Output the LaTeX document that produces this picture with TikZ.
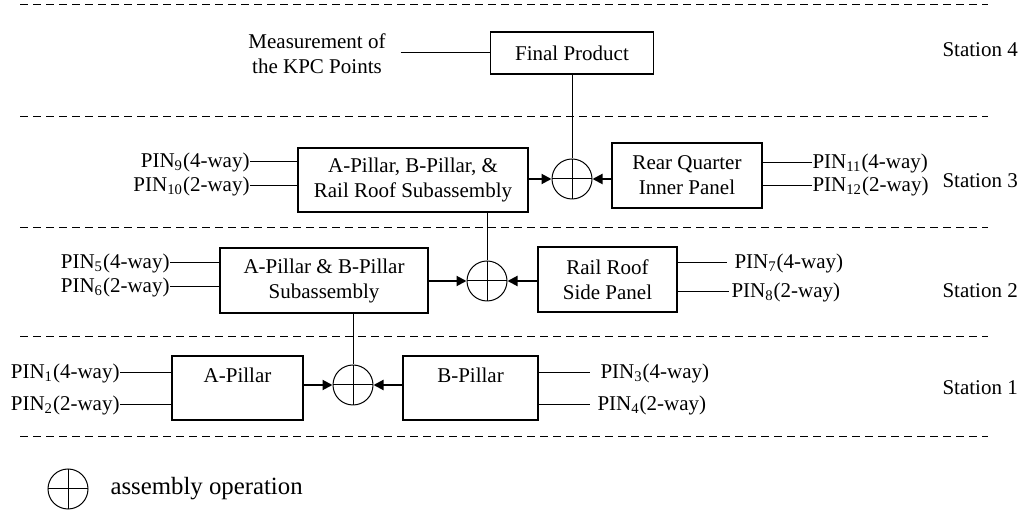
\documentclass[tikz,border=0pt]{standalone}
\usepackage{fontspec}
\setmainfont{Liberation Serif}
\usetikzlibrary{arrows.meta}
\begin{document}
\begin{tikzpicture}[x=0.5pt,y=-0.5pt,
  font=\fontsize{10.5}{12.5}\selectfont, line width=0.5pt,
  blk/.style={draw, inner sep=0pt, align=center, line width=0.6pt},
  asm/.style={draw, circle, minimum size=20pt, inner sep=0pt,
    path picture={\draw (path picture bounding box.north) -- (path picture bounding box.south)
      (path picture bounding box.west) -- (path picture bounding box.east);}},
  sepline/.style={dash pattern=on 4pt off 2.5pt, line width=0.5pt},
  arr/.style={-{Triangle[length=5pt,width=5pt]}, line width=1pt},
  pinl/.style={inner sep=0pt, anchor=east},
  pinr/.style={inner sep=0pt, anchor=west},
  stn/.style={anchor=west, inner sep=0pt}]
\useasboundingbox (0,0) rectangle (1023,512);

% station separators
\foreach \yy in {5,117,228,337,437} \draw[sepline] (20,\yy) -- (988,\yy);

% Station 4
\node[blk, minimum width=81.5pt, minimum height=21pt] (fp) at (572,53) {Final Product};
\node[align=center] (meas) at (317,54) {Measurement of\\the KPC Points};
\draw ([xshift=4pt]meas.east |- fp.west) -- (fp.west);
\node[stn] (st4) at (942,50) {Station 4};

% Station 3
\node[asm] (c3) at (572,179) {};
\draw (fp.south) -- (c3.north);
\node[blk, minimum width=115pt, minimum height=32pt] (s3L) at (413,180) {A-Pillar, B-Pillar, \&\\Rail Roof Subassembly};
\node[blk, minimum width=75pt, minimum height=32.5pt] (s3R) at (687,175.5) {Rear Quarter\\Inner Panel};
\draw[arr] (c3.west -| s3L.east) -- (c3.west);
\draw[arr] (c3.east -| s3R.west) -- (c3.east);
\node[pinl] (p9) at (250,162) {PIN\textsubscript{9}(4-way)};
\node[pinl] (p10) at (250,186) {PIN\textsubscript{10}(2-way)};
\draw (p9.east) -- (p9.east -| s3L.west);
\draw (p10.east) -- (p10.east -| s3L.west);
\node[pinr] (p11) at (812,163) {PIN\textsubscript{11}(4-way)};
\node[pinr] (p12) at (812,186) {PIN\textsubscript{12}(2-way)};
\draw (s3R.east |- p11.west) -- (p11.west);
\draw (s3R.east |- p12.west) -- (p12.west);
\node[stn] (st3) at (942,181) {Station 3};

% Station 2
\node[asm] (c2) at (487,281) {};
\draw (c2.north |- s3L.south) -- (c2.north);
\node[blk, minimum width=104pt, minimum height=32.5pt] (s2L) at (324,280.5) {A-Pillar \& B-Pillar\\Subassembly};
\node[blk, minimum width=69.5pt, minimum height=32.5pt] (s2R) at (607.5,279.5) {Rail Roof\\Side Panel};
\draw[arr] (c2.west -| s2L.east) -- (c2.west);
\draw[arr] (c2.east -| s2R.west) -- (c2.east);
\node[pinl] (p5) at (170,263) {PIN\textsubscript{5}(4-way)};
\node[pinl] (p6) at (170,287) {PIN\textsubscript{6}(2-way)};
\draw (p5.east) -- (p5.east -| s2L.west);
\draw (p6.east) -- (p6.east -| s2L.west);
\node[pinr] (p7) at (734,263) {PIN\textsubscript{7}(4-way)};
\node[pinr] (p8) at (731,292) {PIN\textsubscript{8}(2-way)};
\draw (s2R.east |- p7.west) -- ([xshift=-3.5pt]p7.west);
\draw (s2R.east |- p8.west) -- ([xshift=-1pt]p8.west);
\node[stn] (st2) at (942,291) {Station 2};

% Station 1
\node[asm] (c1) at (353,385) {};
\draw (c1.north |- s2L.south) -- (c1.north);
\node[blk, minimum width=65.5pt, minimum height=32pt] (s1L) at (237.5,388) {A-Pillar\\\mbox{}};
\node[blk, minimum width=67.5pt, minimum height=32pt] (s1R) at (470.5,388) {B-Pillar\\\mbox{}};
\draw[arr] (c1.west -| s1L.east) -- (c1.west);
\draw[arr] (c1.east -| s1R.west) -- (c1.east);
\node[pinl] (p1) at (120,373) {PIN\textsubscript{1}(4-way)};
\node[pinl] (p2) at (120,405) {PIN\textsubscript{2}(2-way)};
\draw (p1.east) -- (p1.east -| s1L.west);
\draw (p2.east) -- (p2.east -| s1L.west);
\node[pinr] (p3) at (600,373) {PIN\textsubscript{3}(4-way)};
\node[pinr] (p4) at (597,405) {PIN\textsubscript{4}(2-way)};
\draw (s1R.east |- p3.west) -- ([xshift=-5pt]p3.west);
\draw (s1R.east |- p4.west) -- ([xshift=-3.5pt]p4.west);
\node[stn] (st1) at (942,388) {Station 1};

% legend
\node[asm] (leg) at (68,489) {};
\node[anchor=west, inner sep=0pt, font=\fontsize{12.4}{14}\selectfont] (legt) at (110,489) {assembly operation};
\end{tikzpicture}
\end{document}
